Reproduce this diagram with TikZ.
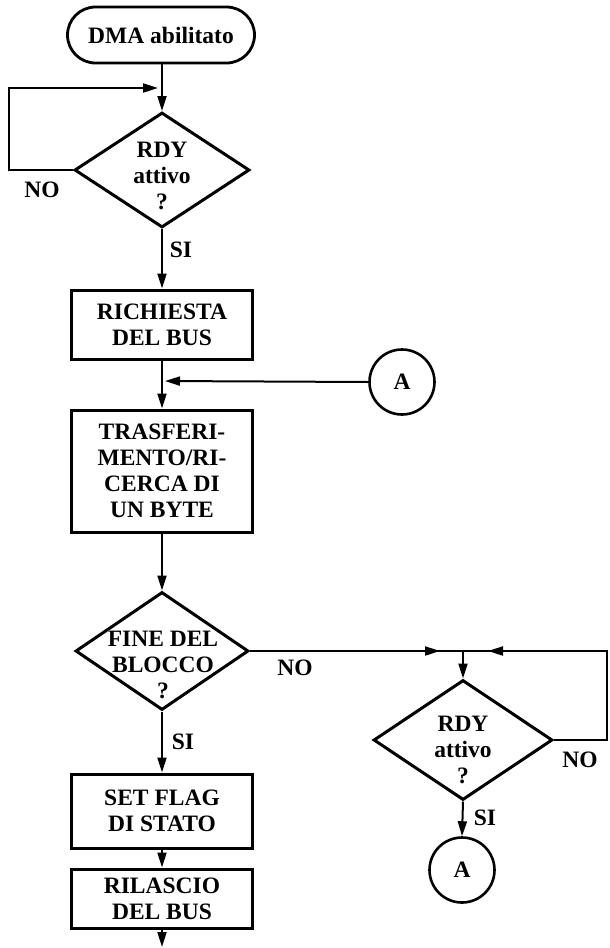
\documentclass[tikz,border=0pt]{standalone}
\usepackage{fontspec}
\setmainfont{Liberation Serif}
\usetikzlibrary{shapes.geometric,arrows.meta,decorations.markings}
\begin{document}
\begin{tikzpicture}[x=1pt,y=-1pt,
  every node/.style={font=\bfseries\fontsize{23.5}{26}\selectfont, align=center},
  term/.style={draw, line width=2.8pt, rounded corners=28pt, minimum width=187pt, minimum height=56pt, inner sep=0},
  box/.style={draw, line width=3pt, minimum width=181pt, inner sep=0},
  decision/.style={draw, diamond, line width=3pt, inner sep=0},
  conn/.style={draw, circle, line width=2.6pt, minimum size=65pt, inner sep=0},
  flow/.style={line width=2pt},
  arr/.style={flow, -{Triangle[length=15pt,width=9pt]}},
  midarr/.style={flow, postaction={decorate}, decoration={markings,
      mark=at position #1 with {\arrow{Triangle[length=15pt,width=9pt]}}}},
  lbl/.style={inner sep=0}
]
\useasboundingbox (0,0) rectangle (610,948);

% main column
\node[term] (start) at (161,35) {DMA abilitato};
\node[decision, minimum width=175pt, minimum height=115pt] (q1) at (162,170) {};
\node[lbl] (q1t) at (162,176) {RDY\\attivo\\?};
\node[box, minimum height=69pt] (b1) at (162,324.5) {RICHIESTA\\DEL BUS};
\node[box, minimum height=122pt] (b2) at (162,471) {TRASFERI-\\MENTO/RI-\\CERCA DI\\UN BYTE};
\node[decision, minimum width=173pt, minimum height=118pt] (q2) at (162,651) {};
\node[lbl] (q2t) at (163,665) {FINE DEL\\BLOCCO\\?};
\node[box, minimum height=74pt] (b3) at (162,811) {SET FLAG\\DI STATO};
\node[box, minimum height=59pt] (b4) at (162,898.5) {RILASCIO\\DEL BUS};

% side branch
\node[conn] (a1) at (402,382) {A};
\node[decision, minimum width=179pt, minimum height=120pt] (q3) at (463,740) {};
\node[lbl] (q3t) at (463,750) {RDY\\attivo\\?};
\node[conn] (a2) at (462,870) {A};

% junctions and corner points
\coordinate (jtop) at (162,88);
\coordinate (loopc) at (9,88);
\coordinate (jA) at (162,381);
\coordinate (j2) at (463,651);
\coordinate (rc1) at (607,740);
\coordinate (rc2) at (607,651);
\coordinate (endc) at (162,947);

% connectors
\draw[arr] (q1.north |- start.south) -- (q1.north);
\draw[arr, shorten >=4pt] (q1.west) -| (loopc) -- (jtop);
\draw[arr] (q1.south) -- (b1.north);
\draw[arr] (b1.south) -- (b2.north);
\draw[arr, shorten >=3pt] (a1.west) -- (jA);
\draw[arr] (b2.south) -- (q2.north);
\draw[midarr=-23pt] (q2.east) -- (j2);
\draw[arr] (j2) -- (q3.north);
\draw[midarr=-25pt] (q3.east) -- (rc1) -- (rc2) -- (j2);
\draw[arr] (q3.south) -- (a2.north);
\draw[arr] (q2.south) -- (b3.north);
\draw[arr] (b3.south) -- (b4.north);
\draw[arr] (b4.south) -- (endc);

% branch labels
\node[lbl] (no1) at (42,190) {NO};
\node[lbl] (si1) at (181,250) {SI};
\node[lbl] (si2) at (183,742) {SI};
\node[lbl] (no2) at (295,668) {NO};
\node[lbl] (no3) at (580,760) {NO};
\node[lbl] (si3) at (485,818) {SI};
\end{tikzpicture}
\end{document}
